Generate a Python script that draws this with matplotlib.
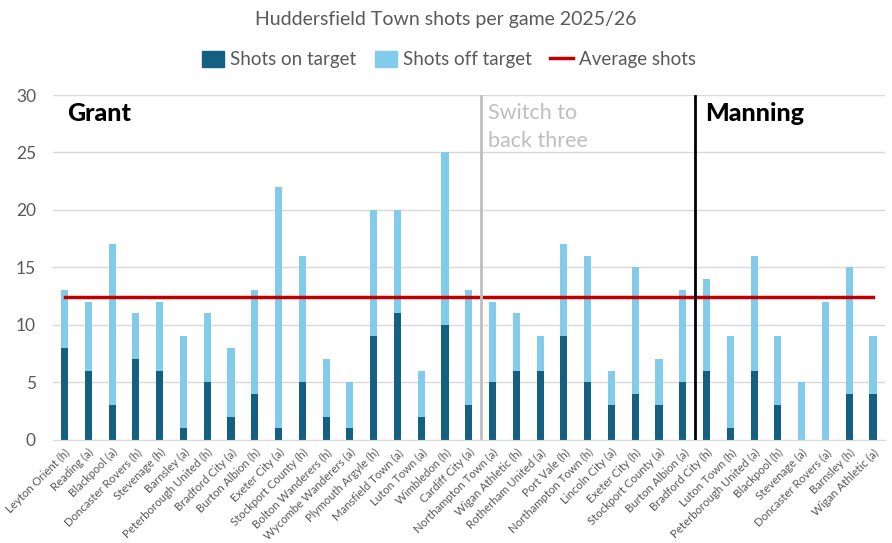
import numpy as np
import matplotlib
matplotlib.use("Agg")
from matplotlib import pyplot as plt
from matplotlib.patches import Patch
from matplotlib.lines import Line2D

matches = [
    "Leyton Orient (h)", "Reading (a)", "Blackpool (a)", "Doncaster Rovers (h)",
    "Stevenage (h)", "Barnsley (a)", "Peterborough United (h)", "Bradford City (a)",
    "Burton Albion (h)", "Exeter City (a)", "Stockport County (h)",
    "Bolton Wanderers (h)", "Wycombe Wanderers (a)", "Plymouth Argyle (h)",
    "Mansfield Town (a)", "Luton Town (a)", "Wimbledon (h)", "Cardiff City (a)",
    "Northampton Town (a)", "Wigan Athletic (h)", "Rotherham United (a)",
    "Port Vale (h)", "Northampton Town (h)", "Lincoln City (a)", "Exeter City (h)",
    "Stockport County (a)", "Burton Albion (a)", "Bradford City (h)",
    "Luton Town (h)", "Peterborough United (a)", "Blackpool (h)", "Stevenage (a)",
    "Doncaster Rovers (a)", "Barnsley (h)", "Wigan Athletic (a)",
]
on_target = [8, 6, 3, 7, 6, 1, 5, 2, 4, 1, 5, 2, 1, 9, 11, 2, 10, 3,
             5, 6, 6, 9, 5, 3, 4, 3, 5, 6, 1, 6, 3, 0, 0, 4, 4]
total_shots = [13, 12, 17, 11, 12, 9, 11, 8, 13, 22, 16, 7, 5, 20, 20, 6, 25, 13,
               12, 11, 9, 17, 16, 6, 15, 7, 13, 14, 9, 16, 9, 5, 12, 15, 9]
switch_after = 18   # back three from match 19
manning_after = 27  # Manning from match 28

on_target = np.asarray(on_target)
off_target = np.asarray(total_shots) - on_target
average = np.mean(total_shots)
x = np.arange(len(matches))

dark = "#156082"
light = "#83CBEB"
grey_text = "#595959"

plt.rcParams["font.family"] = ["Lato", "DejaVu Sans"]

fig = plt.figure(figsize=(8.92, 5.43), dpi=100)
ax = fig.add_axes([0.059, 0.19, 0.933, 0.635])

ax.bar(x, on_target, width=0.3, color=dark, zorder=2)
ax.bar(x, off_target, width=0.3, bottom=on_target, color=light, zorder=2)
ax.plot([x[0], x[-1]], [average, average], color="#C00000", lw=2.5, zorder=3)

ax.axvline(switch_after - 0.5, ymin=0, ymax=1, color="#BFBFBF", lw=2, zorder=4)
ax.axvline(manning_after - 0.5, ymin=0, ymax=0.997, color="black", lw=2, zorder=4)

ax.text(0.1, 28.4, "Grant", fontsize=18, fontweight="black", color="black",
        va="center", ha="left")
ax.text(switch_after - 0.2, 27.2, "Switch to\nback three", fontsize=15.5,
        color="#BFBFBF", va="center", ha="left", linespacing=1.5)
ax.text(manning_after - 0.05, 28.4, "Manning", fontsize=18, fontweight="black",
        color="black", va="center", ha="left")

ax.set_xlim(-0.5, len(matches) - 0.5)
ax.set_ylim(0, 30)
ax.set_yticks(range(0, 31, 5))
ax.yaxis.grid(True, color="#D9D9D9", lw=1)
ax.set_axisbelow(True)
ax.set_xticks(x)
ax.set_xticklabels(matches, rotation=45, ha="right", rotation_mode="anchor",
                   fontsize=8.2, color=grey_text)
ax.tick_params(axis="both", length=0)
ax.tick_params(axis="y", labelsize=12.5, labelcolor=grey_text, pad=12)
ax.tick_params(axis="x", pad=5)
for side in ["top", "right", "left"]:
    ax.spines[side].set_visible(False)
ax.spines["bottom"].set_color("#D9D9D9")

fig.text(0.5, 0.965, "Huddersfield Town shots per game 2025/26", ha="center",
         va="center", fontsize=14, color=grey_text)
handles = [
    Patch(color=dark, label="Shots on target"),
    Patch(color=light, label="Shots off target"),
    Line2D([], [], color="#C00000", lw=2.5, label="Average shots"),
]
fig.legend(handles=handles, loc="center", bbox_to_anchor=(0.503, 0.89), ncol=3,
           frameon=False, fontsize=13.5, labelcolor=grey_text, handlelength=1.2,
           handleheight=0.9, handletextpad=0.3, columnspacing=1.0)

fig.savefig("out.png", dpi=100)
